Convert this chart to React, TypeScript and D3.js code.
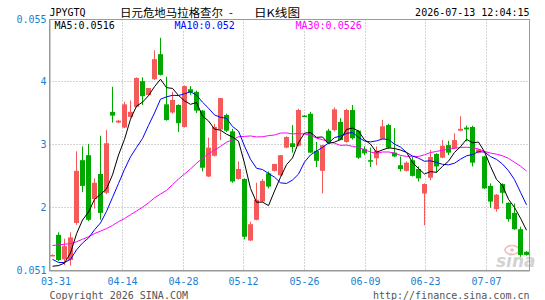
import React from 'react';
import * as d3 from 'd3';

const symbol = 'JPYGTQ';
const titleName = '日元危地马拉格查尔';
const titleSep = '-';
const titleKind = '日K线图';
const timestamp = '2026-07-13 12:04:15';
const copyright = 'Copyright 2026 SINA.COM';
const siteUrl = 'http://finance.sina.com.cn';

const tickLabels = ['03-31', '04-14', '04-28', '05-12', '05-26', '06-09', '06-23', '07-07'];
const tickIndex = [2, 12, 22, 32, 42, 52, 62, 72];
const yTicks = [0.055, 0.054, 0.053, 0.052, 0.051];
const yTickLabels = ['0.055', '4', '3', '2', '0.051'];

const opens = [
  0.05123, 0.05156, 0.05117, 0.05116, 0.05175, 0.05275, 0.05283, 0.05213, 0.05253, 0.05223,
  0.05352, 0.05335, 0.05327, 0.05344, 0.05360, 0.05401, 0.05379, 0.05404, 0.05444, 0.05364,
  0.05351, 0.05363, 0.05328, 0.05388, 0.05384, 0.05354, 0.05249, 0.05282, 0.05324, 0.05347,
  0.05321, 0.05245, 0.05245, 0.05147, 0.05180, 0.05209, 0.05254, 0.05258, 0.05251, 0.05295,
  0.05302, 0.05298, 0.05346, 0.05349, 0.05290, 0.05258, 0.05322, 0.05323, 0.05336, 0.05304,
  0.05355, 0.05322, 0.05293, 0.05275, 0.05278, 0.05309, 0.05331, 0.05287, 0.05267, 0.05258,
  0.05275, 0.05261, 0.05222, 0.05247, 0.05285, 0.05279, 0.05299, 0.05294, 0.05322, 0.05327,
  0.05328, 0.05287, 0.05281, 0.05234, 0.05197, 0.05237, 0.05207, 0.05191, 0.05165, 0.05129,
];
const highs = [
  0.05125, 0.05160, 0.05150, 0.05160, 0.05289, 0.05297, 0.05301, 0.05246, 0.05314, 0.05323,
  0.05392, 0.05339, 0.05368, 0.05370, 0.05407, 0.05407, 0.05390, 0.05450, 0.05470, 0.05408,
  0.05384, 0.05364, 0.05394, 0.05393, 0.05386, 0.05355, 0.05311, 0.05333, 0.05374, 0.05349,
  0.05325, 0.05273, 0.05246, 0.05177, 0.05239, 0.05245, 0.05257, 0.05269, 0.05283, 0.05313,
  0.05331, 0.05357, 0.05347, 0.05352, 0.05304, 0.05299, 0.05325, 0.05359, 0.05342, 0.05357,
  0.05363, 0.05323, 0.05297, 0.05295, 0.05297, 0.05339, 0.05333, 0.05326, 0.05281, 0.05273,
  0.05280, 0.05265, 0.05238, 0.05291, 0.05286, 0.05307, 0.05306, 0.05318, 0.05345, 0.05330,
  0.05330, 0.05293, 0.05282, 0.05238, 0.05221, 0.05238, 0.05208, 0.05206, 0.05169, 0.05130,
];
const lows = [
  0.05122, 0.05114, 0.05108, 0.05107, 0.05172, 0.05224, 0.05178, 0.05198, 0.05180, 0.05221,
  0.05335, 0.05334, 0.05326, 0.05343, 0.05359, 0.05363, 0.05378, 0.05403, 0.05410, 0.05338,
  0.05349, 0.05320, 0.05327, 0.05379, 0.05350, 0.05257, 0.05248, 0.05281, 0.05307, 0.05320,
  0.05239, 0.05244, 0.05149, 0.05146, 0.05179, 0.05208, 0.05230, 0.05257, 0.05250, 0.05294,
  0.05287, 0.05297, 0.05345, 0.05287, 0.05264, 0.05222, 0.05302, 0.05321, 0.05307, 0.05303,
  0.05308, 0.05277, 0.05283, 0.05264, 0.05267, 0.05308, 0.05293, 0.05280, 0.05257, 0.05257,
  0.05249, 0.05241, 0.05171, 0.05243, 0.05255, 0.05278, 0.05283, 0.05293, 0.05321, 0.05305,
  0.05265, 0.05286, 0.05229, 0.05199, 0.05193, 0.05206, 0.05177, 0.05164, 0.05121, 0.05123,
];
const closes = [
  0.05124, 0.05116, 0.05138, 0.05152, 0.05258, 0.05234, 0.05180, 0.05239, 0.05191, 0.05302,
  0.05346, 0.05338, 0.05364, 0.05352, 0.05406, 0.05377, 0.05390, 0.05436, 0.05411, 0.05339,
  0.05371, 0.05334, 0.05393, 0.05383, 0.05354, 0.05263, 0.05295, 0.05328, 0.05374, 0.05322,
  0.05241, 0.05261, 0.05153, 0.05173, 0.05212, 0.05242, 0.05233, 0.05269, 0.05283, 0.05312,
  0.05296, 0.05355, 0.05345, 0.05287, 0.05274, 0.05299, 0.05303, 0.05356, 0.05307, 0.05355,
  0.05310, 0.05279, 0.05286, 0.05273, 0.05290, 0.05329, 0.05295, 0.05281, 0.05261, 0.05271,
  0.05250, 0.05246, 0.05237, 0.05280, 0.05265, 0.05298, 0.05287, 0.05307, 0.05325, 0.05324,
  0.05271, 0.05292, 0.05230, 0.05209, 0.05220, 0.05223, 0.05181, 0.05165, 0.05124, 0.05124,
];

// moving-average values at the left edge (their windows start before the visible range)
const ma5Head = [0.05106, 0.05107, 0.05111, 0.05127];
const ma10Head = [0.05117, 0.05112, 0.05112, 0.05117, 0.05132, 0.05143, 0.05151, 0.05164, 0.05175];
const ma30Head = [
  0.05139, 0.05140, 0.05141, 0.05142, 0.05145, 0.05149, 0.05153, 0.05158, 0.05162, 0.05166,
  0.05171, 0.05177, 0.05182, 0.05188, 0.05194, 0.05200, 0.05207, 0.05215, 0.05221, 0.05227,
  0.05236, 0.05245, 0.05253, 0.05261, 0.05270, 0.05278, 0.05285, 0.05291, 0.05297,
];

const W = 545;
const H = 300;
const M = { left: 49.5, right: 529.5, top: 19.5, bottom: 270.5 };
const UP = '#f55a5a';
const DOWN = '#00a800';
const BLUE_TXT = '#1a7fd4';
const MONO = '"DejaVu Sans Mono", monospace';
const CJK = '"Noto Sans CJK SC", sans-serif';

function movingAvg(n: number, head: number[]) {
  return closes.map((_, i) => {
    if (i < n - 1) return head[i];
    return d3.mean(closes.slice(i - n + 1, i + 1)) as number;
  });
}

const fmt = (v: number) => String(parseFloat(v.toFixed(4)));

export default function App() {
  const idx = closes.map((_, i) => i);
  // candle slots
  const x = d3
    .scaleBand<number>()
    .domain(idx)
    .range([M.left, M.right])
    .paddingInner(1 / 6)
    .paddingOuter(1 / 12);
  // date grid positions (spread over the full plot width)
  const gx = d3.scalePoint<number>().domain(idx).range([M.left + 0.5, M.right]);
  const gridX = (i: number) => Math.round(gx(i) as number) - 0.5;
  const bw = x.bandwidth();
  const cx = (i: number) => (x(i) as number) + bw / 2;
  const y = d3.scaleLinear().domain([0.051, 0.055]).range([270, 19]);
  const px = (v: number) => Math.floor(v) + 0.5;

  const ma5 = movingAvg(5, ma5Head);
  const ma10 = movingAvg(10, ma10Head);
  const ma30 = movingAvg(30, ma30Head);
  const line = d3
    .line<number>()
    .x((_, i) => cx(i))
    .y((v) => y(v));

  const legend = [
    { label: 'MA5:' + fmt(ma5[ma5.length - 1]), color: '#000000', x: 54.5 },
    { label: 'MA10:' + fmt(ma10[ma10.length - 1]), color: '#0000ff', x: 174.5 },
    { label: 'MA30:' + fmt(ma30[ma30.length - 1]), color: '#ff00ff', x: 295.5 },
  ];

  return (
    <svg
      width={W}
      height={H}
      viewBox={`0 0 ${W} ${H}`}
      style={{ position: 'absolute', left: 0, top: 0, background: '#fff' }}
    >
      <defs>
        <clipPath id="plot">
          <rect x={M.left + 0.5} y={M.top} width={M.right - M.left - 0.5} height={M.bottom - M.top} />
        </clipPath>
      </defs>
      <rect x={0} y={0} width={W} height={H} fill="#fff" />

      {/* header */}
      <text x={49.5} y={12.5} fontFamily={MONO} fontSize={10} dominantBaseline="central" fill="#000">
        {symbol}
      </text>
      <text y={11.5} fontFamily={CJK} fontSize={11} dominantBaseline="central" fill="#000">
        <tspan x={120} textLength={103} lengthAdjust="spacingAndGlyphs">
          {titleName}
        </tspan>
        <tspan x={226.5}> {titleSep} </tspan>
        <tspan x={254} textLength={46} lengthAdjust="spacingAndGlyphs">
          {titleKind}
        </tspan>
      </text>
      <text x={529.5} y={12.5} fontFamily={MONO} fontSize={10} textAnchor="end" dominantBaseline="central" fill="#000">
        {timestamp}
      </text>

      {/* horizontal grid */}
      {yTicks
        .filter((v) => v > 0.051 && v < 0.055)
        .map((v) => (
          <line
            key={'h' + v}
            x1={M.left}
            x2={M.right}
            y1={px(y(v))}
            y2={px(y(v))}
            stroke="#a8a8a8"
            strokeDasharray="1,2"
          />
        ))}
      {/* vertical grid */}
      {tickIndex.slice(1).map((i) => (
        <line
          key={'v' + i}
          x1={gridX(i)}
          x2={gridX(i)}
          y1={M.top}
          y2={M.bottom}
          stroke="#a8a8a8"
          strokeDasharray="1,2"
        />
      ))}

      {/* y labels */}
      {yTicks.map((v, k) => (
        <text
          key={'yl' + v}
          x={46.5}
          y={Math.max(y(v), 17)}
          fontFamily={MONO}
          fontSize={10}
          textAnchor="end"
          dominantBaseline="central"
          fill={BLUE_TXT}
        >
          {yTickLabels[k]}
        </text>
      ))}

      {/* x labels */}
      {tickLabels.map((t, k) => (
        <text
          key={'xl' + t}
          x={k === 0 ? M.left - 8.5 : gridX(tickIndex[k])}
          y={281}
          fontFamily={MONO}
          fontSize={10}
          textAnchor={k === 0 ? 'start' : 'middle'}
          dominantBaseline="central"
          fill={BLUE_TXT}
        >
          {t}
        </text>
      ))}

      {/* watermark */}
      <g opacity={0.55}>
        <ellipse cx={512} cy={250} rx={7} ry={4.5} fill="none" stroke="#f08080" strokeWidth={1.6} />
        <circle cx={512} cy={250} r={1.8} fill="#f08080" />
        <text
          x={496}
          y={267}
          fontFamily='"DejaVu Sans", sans-serif'
          fontStyle="italic"
          fontWeight="bold"
          fontSize={17}
          fill="#b0b0b0"
        >
          sina
        </text>
      </g>

      {/* candles */}
      <g clipPath="url(#plot)">
        {idx.map((i) => {
          const o = opens[i];
          const c = closes[i];
          const up = c >= o;
          const color = up ? UP : DOWN;
          const top = y(Math.max(o, c));
          const bot = y(Math.min(o, c));
          return (
            <g key={'c' + i}>
              <line x1={cx(i)} x2={cx(i)} y1={y(highs[i])} y2={y(lows[i])} stroke={color} strokeWidth={1} />
              <rect x={x(i)} y={top} width={bw} height={Math.max(bot - top, 1.5)} fill={color} />
            </g>
          );
        })}
        <path d={line(ma30) || ''} fill="none" stroke="#ff00ff" strokeWidth={1} />
        <path d={line(ma10) || ''} fill="none" stroke="#0000ff" strokeWidth={1} />
        <path d={line(ma5) || ''} fill="none" stroke="#000000" strokeWidth={1} />
      </g>

      {/* legend */}
      {legend.map((l) => (
        <g key={l.label}>
          <rect x={l.x - 1} y={20.5} width={l.label.length * 6.02 + 2} height={9} fill="#fff" />
          <text x={l.x} y={25} fontFamily={MONO} fontSize={10} dominantBaseline="central" fill={l.color}>
            {l.label}
          </text>
        </g>
      ))}

      {/* frame */}
      <rect
        x={M.left}
        y={M.top}
        width={M.right - M.left}
        height={M.bottom - M.top}
        fill="none"
        stroke="#9a9a9a"
        strokeWidth={1}
      />
      <line x1={M.left + 0.5} x2={M.left + 0.5} y1={M.top} y2={M.bottom} stroke="#9a9a9a" strokeWidth={1} />
      <line x1={M.left} x2={M.right} y1={M.bottom + 0.5} y2={M.bottom + 0.5} stroke="#9a9a9a" strokeWidth={1} />

      {/* footer */}
      <text x={49.5} y={295} fontFamily={MONO} fontSize={10} dominantBaseline="central" fill="#555">
        {copyright}
      </text>
      <text x={529.5} y={295} fontFamily={MONO} fontSize={10} textAnchor="end" dominantBaseline="central" fill="#555">
        {siteUrl}
      </text>
    </svg>
  );
}
